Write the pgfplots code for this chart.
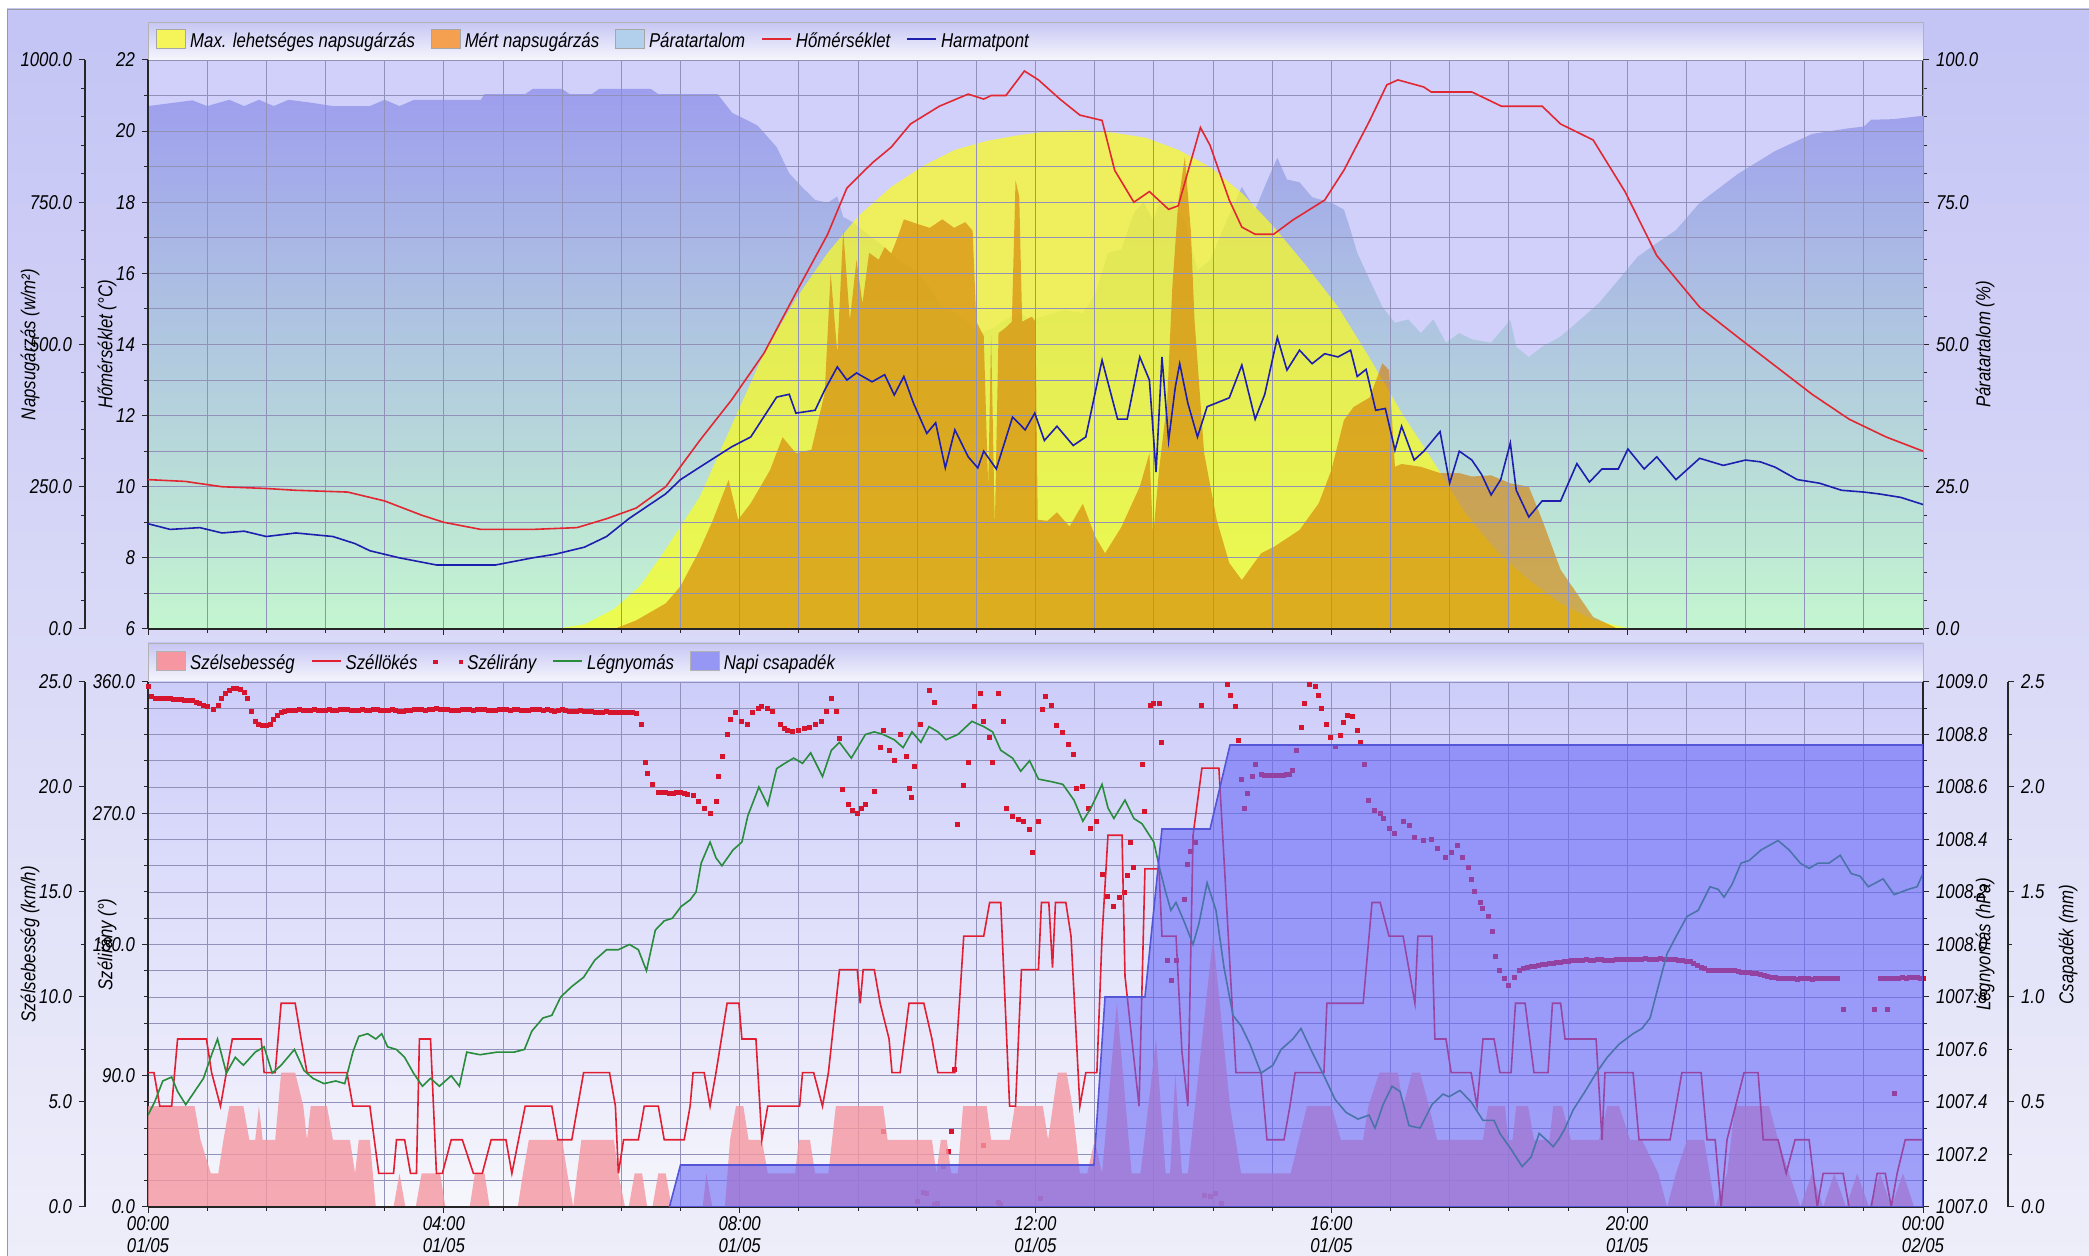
\documentclass[border=0pt]{standalone}
\usepackage{fontspec}
\setmainfont{Liberation Sans}[FakeStretch=0.84]
\usepackage{pgfplots}
\pgfplotsset{compat=1.18}
\definecolor{bgA}{RGB}{196,196,245}
\definecolor{bgB}{RGB}{238,238,250}
\definecolor{legA}{RGB}{198,198,244}
\definecolor{legB}{RGB}{246,246,253}
\definecolor{topbg}{RGB}{208,208,250}
\definecolor{humTop}{RGB}{158,158,238}
\definecolor{humMid}{RGB}{180,200,236}
\definecolor{humBot}{RGB}{196,246,208}
\definecolor{humLeg}{RGB}{178,208,236}
\definecolor{maxY}{RGB}{255,255,20}
\definecolor{maxYL}{RGB}{245,245,90}
\definecolor{measO}{RGB}{212,122,0}
\definecolor{measOL}{RGB}{245,160,80}
\definecolor{tempR}{RGB}{225,40,50}
\definecolor{dewB}{RGB}{30,30,175}
\definecolor{botTop}{RGB}{205,205,250}
\definecolor{botBot}{RGB}{246,246,252}
\definecolor{windP}{RGB}{245,150,160}
\definecolor{gustR}{RGB}{225,30,50}
\definecolor{dirR}{RGB}{215,20,45}
\definecolor{presG}{RGB}{40,140,60}
\definecolor{precB}{RGB}{100,100,248}
\definecolor{precE}{RGB}{85,85,215}
\definecolor{precL}{RGB}{150,150,245}
\definecolor{gridC}{RGB}{145,145,185}
\newcommand{\tf}{\fontsize{10}{11.5}\selectfont\itshape}
\pgfplotsset{
  every axis/.append style={scale only axis, width=887.5pt, xmin=0, xmax=24,
    tick align=outside, major tick length=3pt, minor tick length=2pt,
    tick style={black!85, line width=0.5pt},
    axis line style={black!85, line width=0.6pt},
    /pgf/number format/assume math mode=true,
    tick label style={font=\tf},
    label style={font=\tf},
    grid style={gridC, line width=0.45pt},
    minor grid style={gridC, line width=0.45pt}},
  toppanel/.style={at={(74pt,313.5pt)}, anchor=south west, height=284.5pt},
  botpanel/.style={at={(74pt,24.5pt)}, anchor=south west, height=262.5pt},
  onedec/.style={yticklabel style={/pgf/number format/.cd, fixed, fixed zerofill, precision=1, 1000 sep={}}},
  hourticks/.style={xtick={0,4,8,12,16,20,24},
    minor xtick={0.8,1.6,2.4,3.2,4.8,5.6,6.4,7.2,8.8,9.6,10.4,11.2,12.8,13.6,14.4,15.2,16.8,17.6,18.4,19.2,20.8,21.6,22.4,23.2}},
  leftlab/.style={every axis y label/.style={at={(rel axis cs:0,0.5)}, xshift=#1, rotate=90, anchor=center}},
  rightlab/.style={every axis y label/.style={at={(rel axis cs:1,0.5)}, xshift=#1, rotate=90, anchor=center}},
}
\begin{document}
\begin{tikzpicture}[font=\tf]
\path[use as bounding box] (0,0) rectangle (1044.5pt,628pt);
\fill[white] (0,0) rectangle (1044.5pt,628pt);
\shade[top color=bgA, bottom color=bgB, draw=gray!80] (3.5pt,-2pt) rectangle (1046pt,623.5pt);
\shade[top color=legA, bottom color=legB, draw=gray!60] (74pt,598pt) rectangle (961.5pt,617pt);
\shade[top color=legA, bottom color=legB, draw=gray!60] (74pt,287pt) rectangle (961.5pt,306.5pt);

% ================= TOP PANEL =================
\begin{axis}[toppanel, ymin=0, ymax=100, axis x line=none, axis y line*=right,
  axis background/.style={fill=topbg}, onedec,
  ytick={0,25,50,75,100}, minor ytick={5,10,15,20,30,35,40,45,55,60,65,70,80,85,90,95},
  rightlab=31pt, ylabel={Páratartalom (\%)}]
\addplot[draw=none, top color=humTop, middle color=humMid, bottom color=humBot] coordinates {
(0,91.9)(0.6,92.9)(0.8,91.9)(1.1,93)(1.3,91.9)(1.5,93)(1.7,91.9)(1.9,93)(2.2,92.5)(2.5,91.9)(3.0,91.9)(3.2,93)(3.4,91.9)(3.6,93)(4.5,93)(4.55,94)(5.1,94)(5.2,94.9)(5.6,94.9)(5.7,94)(6.0,94)(6.1,94.9)(6.8,94.9)(6.9,94)(7.7,94)(7.9,90.7)(8.24,88.5)(8.5,84.7)(8.67,80.1)(8.84,77.7)(9.02,75.4)(9.19,74.9)(9.32,76)(9.4,72.4)(9.53,71.5)(9.71,69.6)(9.96,67.1)(10.14,64.9)(10.4,62.6)(10.57,60.1)(10.74,56.6)(10.91,55.5)(11.09,53.8)(11.26,52)(11.47,53.2)(11.6,54.4)(11.78,55.5)(11.95,54.3)(12.12,55)(12.38,56.1)(12.64,55.5)(12.81,59)(12.98,66.1)(13.16,66.7)(13.33,73.1)(13.46,75)(13.59,71.8)(13.67,74.6)(13.85,75.3)(14.02,71.8)(14.19,63.1)(14.36,64.8)(14.53,70.1)(14.79,77.7)(14.97,73.7)(15.14,79)(15.27,82.8)(15.4,79)(15.57,78.5)(15.74,75.9)(16.0,74.9)(16.17,73.7)(16.26,70.1)(16.35,66.1)(16.52,61.3)(16.69,56.6)(16.86,53.8)(17.04,54.4)(17.21,52)(17.38,54.4)(17.55,50.3)(17.73,52)(17.9,50.9)(18.16,50.3)(18.42,54.3)(18.5,49.6)(18.67,47.8)(18.85,49.6)(19.1,51.4)(19.36,54.3)(19.62,57.3)(19.88,61.3)(20.14,65.4)(20.4,67.8)(20.66,70.1)(20.98,74.9)(21.5,80)(22.0,84)(22.5,87)(23.0,88)(23.2,88.3)(23.3,89.5)(23.6,89.6)(24.0,90.2)} \closedcycle;
\end{axis}

\begin{axis}[toppanel, ymin=0, ymax=1000, hide axis]
\addplot[draw=none, fill=maxY, fill opacity=0.68] coordinates {
(5.5,0)(5.9,8)(6.3,35)(6.65,75)(7.0,140)(7.46,232)(7.9,360)(8.33,485)(8.76,580)(9.19,661)(9.6,725)(10.05,777)(10.5,815)(10.91,842)(11.35,858)(11.78,868)(12.2,875)(12.64,877)(13.07,872)(13.5,863)(13.93,842)(14.36,812)(14.8,765)(15.22,707)(15.65,640)(16.09,566)(16.5,480)(16.95,380)(17.4,290)(17.81,204)(18.25,135)(18.67,86)(19.1,45)(19.54,16)(20.05,0)} \closedcycle;
\addplot[draw=none, fill=measO, fill opacity=0.6] coordinates {
(6.3,0)(6.6,15)(7.0,45)(7.2,75)(7.46,139)(7.64,192)(7.85,262)(7.98,192)(8.15,221)(8.41,279)(8.58,337)(8.76,309)(8.97,315)(9.15,415)(9.23,626)(9.32,485)(9.4,701)(9.49,543)(9.58,649)(9.66,572)(9.75,661)(9.88,649)(9.96,671)(10.05,660)(10.14,690)(10.22,720)(10.4,712)(10.57,705)(10.74,720)(10.9,705)(11.05,715)(11.15,700)(11.2,540)(11.3,515)(11.36,250)(11.4,515)(11.45,179)(11.5,520)(11.6,530)(11.68,540)(11.73,789)(11.78,760)(11.82,540)(11.95,549)(12.0,540)(12.03,192)(12.16,190)(12.29,205)(12.46,180)(12.64,220)(12.81,162)(12.94,133)(13.16,179)(13.41,250)(13.54,309)(13.59,162)(13.67,279)(13.78,400)(13.85,601)(13.93,750)(14.02,830)(14.1,700)(14.15,543)(14.28,309)(14.45,192)(14.62,116)(14.79,86)(15.05,133)(15.22,144)(15.57,174)(15.83,221)(16.0,279)(16.17,367)(16.3,390)(16.52,407)(16.69,467)(16.78,455)(16.86,285)(16.95,290)(17.21,285)(17.47,274)(17.73,274)(17.9,268)(18.16,270)(18.42,256)(18.67,250)(18.85,192)(19.1,104)(19.54,21)(19.88,0)} \closedcycle;
\end{axis}

\begin{axis}[toppanel, ymin=6, ymax=22, axis x line*=bottom, axis y line*=left,
  hourticks, xticklabels={}, grid=both,
  ytick={6,8,10,12,14,16,18,20,22}, minor ytick={7,9,11,13,15,17,19,21},
  leftlab=-20.5pt, ylabel={Hőmérséklet (°C)},
  legend columns=-1,
  legend style={at={(0,1)}, anchor=south west, xshift=1pt, yshift=0.5pt, draw=none, fill=none,
    font=\tf, /tikz/every even column/.append style={column sep=6pt}}]
\addlegendimage{legend image code/.code={\fill[maxYL, draw=gray!70] (0pt,-3.5pt) rectangle (14.5pt,6pt);}}
\addlegendentry{Max. lehetséges napsugárzás}
\addlegendimage{legend image code/.code={\fill[measOL, draw=gray!70] (0pt,-3.5pt) rectangle (14.5pt,6pt);}}
\addlegendentry{Mért napsugárzás}
\addlegendimage{legend image code/.code={\fill[humLeg, draw=gray!70] (0pt,-3.5pt) rectangle (14.5pt,6pt);}}
\addlegendentry{Páratartalom}
\addlegendimage{legend image code/.code={\draw[tempR, line width=0.9pt] (0pt,1.2pt) -- (14.5pt,1.2pt);}}
\addlegendentry{Hőmérséklet}
\addlegendimage{legend image code/.code={\draw[dewB, line width=0.9pt] (0pt,1.2pt) -- (14.5pt,1.2pt);}}
\addlegendentry{Harmatpont}
\addplot[forget plot, tempR, line width=0.8pt] coordinates {
(0,10.2)(0.5,10.15)(1.0,10.0)(1.6,9.95)(2.0,9.9)(2.7,9.85)(3.2,9.6)(3.7,9.2)(4.0,9.0)(4.5,8.8)(5.2,8.8)(5.8,8.85)(6.2,9.1)(6.6,9.4)(7.0,10.0)(7.46,11.3)(7.89,12.44)(8.33,13.76)(8.76,15.45)(9.19,17.1)(9.45,18.4)(9.79,19.1)(10.05,19.55)(10.31,20.2)(10.7,20.7)(11.09,21.04)(11.3,20.9)(11.4,21.0)(11.6,21.0)(11.85,21.69)(12.04,21.44)(12.33,20.9)(12.6,20.45)(12.9,20.3)(13.07,18.9)(13.33,18.0)(13.54,18.3)(13.8,17.8)(13.93,17.9)(14.23,20.1)(14.36,19.6)(14.62,18.06)(14.79,17.3)(14.97,17.1)(15.22,17.1)(15.48,17.5)(15.91,18.06)(16.17,18.9)(16.52,20.3)(16.75,21.3)(16.9,21.44)(17.25,21.24)(17.35,21.1)(17.9,21.1)(18.1,20.9)(18.3,20.7)(18.85,20.7)(19.1,20.2)(19.54,19.75)(19.97,18.3)(20.4,16.5)(20.98,15.05)(21.5,14.2)(22.0,13.4)(22.5,12.6)(23.0,11.9)(23.5,11.4)(24.0,11.0)};
\addplot[forget plot, dewB, line width=0.8pt] coordinates {
(0,8.96)(0.3,8.8)(0.7,8.85)(1.0,8.7)(1.3,8.75)(1.6,8.6)(2.0,8.7)(2.5,8.6)(2.8,8.4)(3.0,8.2)(3.4,8.0)(3.9,7.8)(4.7,7.8)(5.2,8.0)(5.5,8.1)(5.9,8.3)(6.2,8.6)(6.5,9.1)(7.0,9.8)(7.2,10.2)(7.46,10.55)(7.89,11.12)(8.15,11.4)(8.5,12.52)(8.67,12.6)(8.76,12.07)(9.02,12.15)(9.15,12.72)(9.32,13.37)(9.45,13.0)(9.58,13.2)(9.79,12.95)(9.96,13.15)(10.09,12.58)(10.22,13.1)(10.35,12.35)(10.53,11.5)(10.65,11.8)(10.78,10.53)(10.91,11.6)(11.09,10.84)(11.22,10.53)(11.3,11.0)(11.47,10.5)(11.69,11.96)(11.86,11.6)(11.99,12.07)(12.12,11.3)(12.29,11.7)(12.51,11.16)(12.68,11.4)(12.9,13.56)(13.11,11.9)(13.24,11.9)(13.41,13.65)(13.54,13.0)(13.63,10.41)(13.71,13.65)(13.8,11.3)(13.89,12.8)(13.95,13.46)(14.06,12.35)(14.19,11.4)(14.32,12.25)(14.62,12.5)(14.79,13.42)(14.97,11.9)(15.1,12.6)(15.27,14.2)(15.4,13.28)(15.57,13.84)(15.74,13.46)(15.91,13.74)(16.09,13.65)(16.26,13.84)(16.35,13.1)(16.47,13.3)(16.6,12.15)(16.73,12.2)(16.86,11.03)(16.95,11.7)(17.12,10.75)(17.25,11.0)(17.47,11.55)(17.6,10.1)(17.73,11.0)(17.9,10.75)(18.03,10.35)(18.16,9.77)(18.29,10.2)(18.42,11.23)(18.5,9.9)(18.67,9.15)(18.85,9.6)(19.1,9.6)(19.32,10.65)(19.49,10.13)(19.66,10.5)(19.88,10.5)(20.01,11.06)(20.23,10.5)(20.4,10.84)(20.66,10.2)(20.98,10.8)(21.3,10.6)(21.6,10.75)(21.8,10.7)(22.0,10.55)(22.3,10.2)(22.6,10.1)(22.9,9.9)(23.2,9.85)(23.4,9.8)(23.7,9.7)(24.0,9.5)};
\end{axis}

\begin{axis}[at={(42.5pt,313.5pt)}, anchor=south west, height=284.5pt, width=10pt,
  ymin=0, ymax=1000, axis x line=none, axis y line*=left, onedec,
  ytick={0,250,500,750,1000}, minor ytick={50,100,150,200,300,350,400,450,550,600,650,700,800,850,900,950},
  leftlab=-27.5pt, ylabel={Napsugárzás (w/m²)}]
\addplot[draw=none] coordinates {(0,0)};
\end{axis}

% ================= BOTTOM PANEL =================
\begin{axis}[botpanel, ymin=0, ymax=360, axis x line*=bottom, axis y line*=left,
  axis background/.style={top color=botTop, bottom color=botBot},
  hourticks, xticklabels={}, grid=both, onedec,
  ytick={0,90,180,270,360}, minor ytick={18,36,54,72,108,126,144,162,198,216,234,252,288,306,324,342},
  leftlab=-20.5pt, ylabel={Szélirány (°)}]
\addplot[only marks, mark=square*, mark size=1pt, mark options={fill=dirR, draw=dirR, line width=0pt}] coordinates {
(0,357)(0.05,350)(0.1,349)(0.15,349)(0.2,349)(0.25,348.8)(0.3,348.5)(0.35,348.3)(0.4,348)(0.45,347.8)(0.5,347.5)(0.55,347.2)(0.6,347)(0.65,346)(0.7,345)(0.75,344)(0.8,343)(0.88,341)(0.95,344)(1.0,349)(1.05,352)(1.1,354)(1.15,355.5)(1.2,355.5)(1.25,355)(1.3,353)(1.35,349)(1.4,340)(1.45,333)(1.5,331)(1.55,330)(1.6,330.5)(1.65,331)(1.7,334)(1.75,337)(1.8,339)(1.85,340)(1.9,340.5)(1.95,340.6)
(2.00,340.5)(2.05,340.8)(2.10,340.6)(2.15,340.2)(2.20,340.4)(2.25,340.9)(2.30,340.6)(2.35,340.3)(2.40,340.5)(2.45,341.0)(2.50,340.7)(2.55,340.4)(2.60,340.8)(2.65,341.2)(2.70,340.9)(2.75,340.5)(2.80,340.2)(2.85,340.6)(2.90,341.0)(2.95,340.7)(3.00,340.4)(3.05,340.8)(3.10,341.1)(3.15,340.7)(3.20,340.3)(3.25,340.6)(3.30,340.9)(3.35,340.4)(3.40,340.0)(3.45,339.8)(3.50,340.2)(3.55,340.6)(3.60,340.9)(3.65,341.3)(3.70,341.0)(3.75,340.6)(3.80,341.0)(3.85,341.4)(3.90,341.6)(3.95,341.2)(4.00,340.8)(4.05,341.1)(4.10,340.7)(4.15,340.3)(4.20,340.6)(4.25,341.0)(4.30,341.3)(4.35,340.9)(4.40,340.6)(4.45,341.0)(4.50,341.3)(4.55,340.9)(4.60,340.5)(4.65,340.2)(4.70,340.5)(4.75,340.9)(4.80,341.2)(4.85,340.8)(4.90,340.5)(4.95,340.8)(5.00,341.1)(5.05,340.7)(5.10,340.3)(5.15,340.6)(5.20,341.0)(5.25,341.3)(5.30,340.9)(5.35,340.5)(5.40,340.8)(5.45,340.4)(5.50,340.1)(5.55,340.4)(5.60,340.8)(5.65,340.4)(5.70,340.0)(5.75,339.7)(5.80,340.0)(5.85,340.3)(5.90,339.9)(5.95,339.5)(6.00,339.8)(6.05,339.4)(6.10,339.0)(6.15,339.3)(6.20,339.6)(6.25,339.2)(6.30,338.9)(6.35,339.2)(6.40,338.8)(6.45,339.1)(6.50,339.3)(6.55,338.9)(6.60,338.7)
(6.67,331)(6.73,305)(6.76,297)(6.82,290)(6.9,284)(6.95,284)(7.0,284)(7.05,283.5)(7.1,283.5)(7.15,284)(7.2,284)(7.25,283.5)(7.3,283)(7.37,282)(7.45,278)(7.52,273)(7.6,270)(7.68,278)(7.72,295)(7.77,309)(7.83,324)(7.87,334)(7.95,339)(8.03,333)(8.1,331)(8.18,339)(8.25,342)(8.3,343)(8.38,342)(8.45,340)(8.55,331)(8.6,328)(8.65,327)(8.72,326)(8.8,327)(8.88,328)(8.95,329)(9.03,331)(9.1,333)(9.17,340)(9.24,349)(9.31,340)(9.35,321)(9.39,286)(9.47,276)(9.53,272)(9.59,270)(9.65,273)(9.7,276)(9.82,285)(9.9,315)(9.94,327)(10.02,313)(10.1,306)(10.17,324)(10.25,309)(10.29,287)(10.33,281)(10.37,302)(10.45,331)(10.56,354)(10.64,346)(10.95,262)(11.03,289)(11.1,305)(11.18,343)(11.26,352)(11.3,333)(11.38,322)(11.42,305)(11.5,352)(11.57,333)(11.61,273)(11.69,268)(11.77,266)(11.84,264)(11.92,259)(11.96,243)(12.04,264)(12.1,341)
(9.94,52)(10.4,4)(10.48,9.6)(10.52,9)(10.64,1.4)(10.68,2.3)(10.76,28)(10.83,38)(10.87,52)(10.9,94)(11.3,42)(11.5,3)(11.53,2)(12.07,6)
(12.14,349.9)(12.21,344)(12.29,330)(12.37,325.5)(12.44,317)(12.52,310)(12.56,287)(12.64,288)(12.71,273)(12.75,259.5)(12.83,264)(12.9,228)(12.98,213)(13.06,206)(13.13,212)(13.21,215.5)(13.25,227)(13.29,250)(13.33,233)(13.44,303.5)(13.48,271)(13.56,344)(13.6,345)(13.67,345)(13.71,318.6)(13.79,169)(13.84,155)(13.9,169)(14.02,210.8)(14.06,235)(14.09,244)(14.17,250)(14.25,344)(14.29,8)(14.36,7)(14.44,9)(14.52,2.3)(14.59,358)(14.63,351)(14.71,343)(14.75,320)(14.78,293)(14.82,273)(14.86,283.8)(14.94,295)(14.98,303.5)(15.05,296.6)(15.1,296.2)(15.15,296)(15.2,296.2)(15.25,296)(15.3,296.2)(15.35,296)(15.4,296.4)(15.44,296.5)(15.48,299)(15.53,312.8)(15.59,329)(15.64,345)(15.7,358)(15.78,357)(15.82,351)(15.87,341.8)(15.94,331)(15.99,322)(16.05,316)(16.13,323)(16.17,332)(16.22,337)(16.28,336)(16.36,326.7)(16.4,318.6)(16.45,303.5)(16.5,279)(16.59,272)(16.66,270)(16.7,266.5)(16.78,259.5)(16.86,256)(16.97,264)(17.05,261.7)(17.13,253.7)(17.24,251)(17.36,252)(17.43,245.6)(17.55,239.8)(17.62,243)(17.7,248)(17.78,239.8)(17.85,232.9)(17.89,224.7)(17.93,216.6)(18.01,208.5)(18.05,205)(18.12,199)(18.18,188.8)(18.22,171.5)(18.28,162)(18.34,156.4)(18.39,151.8)(18.47,157.6)(18.55,162)
(18.60,163.5)(18.65,164.5)(18.70,164.8)(18.75,165.2)(18.80,165.5)(18.85,166.0)(18.90,166.4)(18.95,166.8)(19.00,167.2)(19.05,167.5)(19.10,167.9)(19.15,168.2)(19.20,168.6)(19.25,169.0)(19.30,169.1)(19.35,169.0)(19.40,169.3)(19.45,169.5)(19.50,169.2)(19.55,169.0)(19.60,169.4)(19.65,169.6)(19.70,169.2)(19.75,169.0)(19.80,169.3)(19.85,169.6)(19.90,169.5)(19.95,169.4)(20.00,169.7)(20.05,170.0)(20.10,169.8)(20.15,169.5)(20.20,169.8)(20.25,170.1)(20.30,169.8)(20.35,169.5)(20.40,169.9)(20.45,170.2)(20.50,169.9)(20.55,169.6)(20.60,169.5)(20.65,169.7)(20.70,169.3)(20.75,169.0)(20.80,168.6)(20.85,168.0)(20.90,166.9)(20.95,165.7)(21.00,164.2)(21.05,163.2)(21.10,162.4)(21.15,162.0)(21.20,162.2)(21.25,162.0)(21.30,162.3)(21.35,162.5)(21.40,162.2)(21.45,161.9)(21.50,161.4)(21.55,161.0)(21.60,160.8)(21.65,160.5)(21.70,160.2)(21.75,159.9)(21.80,159.2)(21.85,158.5)(21.90,158.0)(21.95,157.5)(22.00,157.2)(22.05,157.0)(22.10,156.8)(22.15,156.5)(22.20,156.6)(22.25,156.5)(22.30,156.3)(22.35,156.4)(22.40,156.6)(22.45,156.4)(22.50,156.2)(22.55,156.4)(22.60,156.5)(22.65,156.4)(22.70,156.6)(22.75,156.8)(22.80,156.5)(22.85,156.4)
(22.92,135.5)(23.35,135.5)(23.52,135.5)(23.61,78)
(23.42,156.4)(23.47,156.4)(23.52,156.6)(23.57,156.5)(23.62,156.8)(23.67,157.0)(23.72,157.1)(23.77,157.0)(23.82,157.2)(23.87,157.3)(23.92,157.1)(23.97,157.0)(24.0,157.0)};
\end{axis}

\begin{axis}[botpanel, ymin=0, ymax=25, hide axis]
\addplot[draw=none, fill=windP, fill opacity=0.8] coordinates {
(0,4.8)(0.63,4.8)(0.71,3.2)(0.85,1.6)(0.95,1.6)(1.02,3.2)(1.1,4.8)(1.29,4.8)(1.37,3.2)(1.45,3.2)(1.5,4.8)(1.55,3.2)(1.72,3.2)(1.8,6.4)(1.99,6.4)(2.1,4.8)(2.15,3.2)(2.2,4.8)(2.42,4.8)(2.5,3.2)(2.73,3.2)(2.8,1.6)(2.85,3.2)(3.0,3.2)(3.08,0)(3.32,0)(3.4,1.6)(3.48,0)(3.62,0)(3.7,1.6)(3.95,1.6)(4.02,0)(4.35,0)(4.42,1.6)(4.55,1.6)(4.62,0)(5.0,0)(5.07,1.6)(5.15,3.2)(5.6,3.2)(5.67,1.6)(5.75,0)(5.8,1.6)(5.86,3.2)(6.3,3.2)(6.36,1.6)(6.45,0)(6.5,0)(6.58,1.6)(6.68,1.6)(6.75,0)(6.82,0)(6.9,1.6)(7.0,1.6)(7.08,0)(7.5,0)(7.55,1.6)(7.63,0)(7.8,0)(7.87,3.2)(7.95,4.8)(8.05,4.8)(8.12,3.2)(8.3,3.2)(8.38,1.6)(8.75,1.6)(8.8,3.2)(8.95,3.2)(9.02,1.6)(9.2,1.6)(9.3,4.8)(9.94,4.8)(10.0,3.2)(10.6,3.2)(10.66,1.6)(10.72,3.2)(10.8,3.2)(10.86,1.6)(10.95,1.6)(11.02,4.8)(11.34,4.8)(11.4,3.2)(11.65,3.2)(11.72,4.8)(12.1,4.8)(12.17,3.2)(12.3,6.4)(12.42,6.4)(12.5,4.8)(12.6,1.6)(12.7,1.6)(12.8,3.2)(12.9,1.6)(13.1,9.7)(13.3,1.6)(13.42,1.6)(13.63,8.0)(13.76,1.6)(13.82,1.6)(13.89,6.4)(13.98,1.6)(14.06,1.6)(14.4,12.9)(14.63,4.8)(14.78,1.6)(15.45,1.6)(15.67,4.8)(16.0,4.8)(16.13,3.2)(16.43,3.2)(16.5,4.8)(16.65,6.4)(16.9,6.4)(16.97,4.8)(17.09,6.4)(17.2,6.4)(17.32,4.8)(17.43,3.2)(18.05,3.2)(18.12,4.8)(18.35,4.8)(18.39,3.2)(18.45,3.2)(18.5,4.8)(18.66,4.8)(18.74,3.2)(18.95,3.2)(19.0,4.8)(19.12,4.8)(19.24,3.2)(19.62,3.2)(19.73,4.8)(19.89,4.8)(20.04,3.2)(20.2,3.2)(20.42,1.6)(20.54,0)(20.66,1.6)(20.81,3.2)(21.04,3.2)(21.19,0)(21.35,1.6)(21.46,4.8)(21.92,4.8)(22.04,3.2)(22.19,1.6)(22.34,0)(22.5,1.6)(22.65,0)(22.8,1.6)(22.96,0)(23.11,1.6)(23.27,0)(23.42,1.6)(23.57,0)(23.73,1.6)(23.88,0)(24,0)} \closedcycle;
\addplot[gustR, line width=0.8pt] coordinates {
(0,6.4)(0.08,6.4)(0.16,4.8)(0.32,4.8)(0.4,8.0)(0.79,8.0)(0.86,6.4)(0.98,4.8)(1.06,6.4)(1.14,8.0)(1.53,8.0)(1.57,6.4)(1.72,6.4)(1.8,9.7)(1.99,9.7)(2.07,8.0)(2.15,6.4)(2.69,6.4)(2.77,4.8)(3.0,4.8)(3.12,1.6)(3.32,1.6)(3.36,3.2)(3.47,3.2)(3.55,1.6)(3.63,1.6)(3.67,8.0)(3.82,8.0)(3.9,1.6)(3.98,1.6)(4.1,3.2)(4.25,3.2)(4.4,1.6)(4.52,1.6)(4.64,3.2)(4.84,3.2)(4.92,1.6)(5.1,4.8)(5.46,4.8)(5.54,3.2)(5.73,3.2)(5.89,6.4)(6.24,6.4)(6.32,4.8)(6.36,1.6)(6.43,3.2)(6.63,3.2)(6.71,4.8)(6.9,4.8)(6.98,3.2)(7.25,3.2)(7.33,4.8)(7.37,6.4)(7.52,6.4)(7.6,4.8)(7.68,6.4)(7.83,9.7)(7.99,9.7)(8.03,8.0)(8.22,8.0)(8.3,3.2)(8.38,4.8)(8.81,4.8)(8.85,6.4)(9.0,6.4)(9.12,4.8)(9.2,6.4)(9.35,11.3)(9.59,11.3)(9.63,9.7)(9.67,11.3)(9.82,11.3)(9.9,9.7)(10.02,8.0)(10.06,6.4)(10.17,6.4)(10.29,9.7)(10.49,9.7)(10.6,8.0)(10.68,6.4)(10.91,6.4)(11.03,12.9)(11.3,12.9)(11.38,14.5)(11.53,14.5)(11.65,4.8)(11.73,4.8)(11.81,11.3)(12.04,11.3)(12.08,14.5)(12.18,14.5)(12.23,11.4)(12.27,14.5)(12.41,14.5)(12.48,12.9)(12.6,4.8)(12.68,6.4)(12.83,6.4)(12.9,12.9)(12.98,17.7)(13.17,17.7)(13.21,11)(13.4,4.8)(13.48,16.1)(13.67,16.1)(13.71,12.9)(13.9,12.9)(13.98,7.4)(14.06,4.8)(14.13,17.7)(14.25,20.9)(14.48,20.9)(14.71,6.4)(15.05,6.4)(15.13,3.2)(15.36,3.2)(15.44,4.8)(15.51,6.4)(15.9,6.4)(15.94,9.7)(16.43,9.7)(16.55,14.5)(16.66,14.5)(16.78,12.9)(16.97,12.9)(17.05,11.3)(17.13,9.7)(17.17,12.9)(17.36,12.9)(17.4,8.0)(17.55,8.0)(17.62,6.4)(17.89,6.4)(17.97,4.8)(18.05,8.0)(18.2,8.0)(18.28,6.4)(18.43,6.4)(18.49,9.7)(18.62,9.7)(18.74,6.4)(18.93,6.4)(18.99,9.7)(19.1,9.7)(19.16,8.0)(19.58,8.0)(19.66,3.2)(19.7,6.4)(20.08,6.4)(20.16,3.2)(20.58,3.2)(20.74,6.4)(21.0,6.4)(21.08,3.2)(21.19,3.2)(21.27,0)(21.35,3.2)(21.58,6.4)(21.77,6.4)(21.84,3.2)(22.04,3.2)(22.15,1.6)(22.27,3.2)(22.46,3.2)(22.57,0)(22.65,1.6)(22.92,1.6)(23.0,0)(23.3,0)(23.38,1.6)(23.49,1.6)(23.57,0)(23.65,1.6)(23.76,3.2)(24,3.2)};
\end{axis}

\begin{axis}[botpanel, ymin=1007, ymax=1009, axis x line=none, axis y line*=right, onedec,
  ytick={1007,1007.2,1007.4,1007.6,1007.8,1008,1008.2,1008.4,1008.6,1008.8,1009},
  minor ytick={1007.1,1007.3,1007.5,1007.7,1007.9,1008.1,1008.3,1008.5,1008.7,1008.9},
  rightlab=31pt, ylabel={Légnyomás (hPa)}]
\addplot[presG, line width=0.8pt] coordinates {
(0,1007.35)(0.09,1007.40)(0.2,1007.48)(0.32,1007.495)(0.4,1007.44)(0.51,1007.39)(0.63,1007.44)(0.75,1007.49)(0.86,1007.58)(0.94,1007.64)(1.06,1007.51)(1.18,1007.57)(1.29,1007.54)(1.45,1007.59)(1.57,1007.61)(1.68,1007.51)(1.8,1007.54)(1.98,1007.60)(2.11,1007.52)(2.23,1007.49)(2.38,1007.47)(2.54,1007.48)(2.66,1007.47)(2.77,1007.59)(2.85,1007.65)(2.97,1007.66)(3.08,1007.64)(3.16,1007.66)(3.24,1007.61)(3.36,1007.60)(3.47,1007.57)(3.59,1007.51)(3.71,1007.46)(3.82,1007.49)(3.94,1007.46)(4.1,1007.50)(4.21,1007.46)(4.31,1007.59)(4.49,1007.58)(4.72,1007.59)(4.95,1007.59)(5.09,1007.60)(5.19,1007.67)(5.34,1007.72)(5.46,1007.73)(5.58,1007.80)(5.73,1007.84)(5.89,1007.875)(6.04,1007.94)(6.2,1007.98)(6.36,1007.98)(6.51,1008.0)(6.63,1007.98)(6.74,1007.90)(6.86,1008.055)(6.98,1008.09)(7.09,1008.10)(7.21,1008.145)(7.33,1008.17)(7.41,1008.20)(7.48,1008.31)(7.6,1008.39)(7.68,1008.33)(7.76,1008.30)(7.91,1008.36)(8.03,1008.39)(8.11,1008.49)(8.26,1008.60)(8.38,1008.53)(8.5,1008.67)(8.61,1008.69)(8.73,1008.71)(8.85,1008.69)(8.96,1008.73)(9.12,1008.64)(9.24,1008.74)(9.35,1008.77)(9.51,1008.71)(9.7,1008.80)(9.82,1008.81)(9.94,1008.80)(10.09,1008.78)(10.21,1008.75)(10.33,1008.81)(10.45,1008.77)(10.56,1008.83)(10.68,1008.81)(10.79,1008.78)(10.95,1008.80)(11.14,1008.85)(11.3,1008.83)(11.42,1008.81)(11.53,1008.74)(11.69,1008.71)(11.8,1008.66)(11.92,1008.70)(12.04,1008.63)(12.22,1008.62)(12.37,1008.61)(12.52,1008.55)(12.64,1008.47)(12.75,1008.52)(12.9,1008.61)(12.98,1008.52)(13.06,1008.48)(13.21,1008.55)(13.33,1008.48)(13.44,1008.46)(13.6,1008.39)(13.67,1008.30)(13.75,1008.21)(13.83,1008.13)(13.9,1008.16)(14.02,1008.08)(14.13,1008.0)(14.21,1008.08)(14.32,1008.235)(14.44,1008.13)(14.55,1007.91)(14.67,1007.73)(14.78,1007.69)(14.9,1007.62)(15.05,1007.51)(15.21,1007.54)(15.32,1007.60)(15.48,1007.64)(15.59,1007.68)(15.74,1007.59)(15.9,1007.50)(16.05,1007.41)(16.2,1007.36)(16.36,1007.335)(16.51,1007.35)(16.59,1007.30)(16.7,1007.39)(16.82,1007.46)(16.93,1007.44)(17.05,1007.31)(17.2,1007.30)(17.36,1007.39)(17.51,1007.43)(17.59,1007.42)(17.74,1007.444)(17.89,1007.40)(18.05,1007.33)(18.2,1007.33)(18.28,1007.28)(18.43,1007.22)(18.58,1007.154)(18.7,1007.19)(18.81,1007.28)(18.89,1007.26)(19.0,1007.23)(19.08,1007.26)(19.16,1007.30)(19.27,1007.37)(19.43,1007.44)(19.58,1007.51)(19.73,1007.57)(19.89,1007.62)(20.08,1007.66)(20.2,1007.68)(20.31,1007.72)(20.43,1007.85)(20.54,1007.965)(20.66,1008.03)(20.81,1008.107)(20.96,1008.13)(21.12,1008.22)(21.23,1008.21)(21.31,1008.18)(21.42,1008.23)(21.54,1008.31)(21.65,1008.32)(21.81,1008.36)(22.04,1008.396)(22.19,1008.36)(22.34,1008.31)(22.46,1008.29)(22.58,1008.31)(22.73,1008.31)(22.88,1008.34)(23.03,1008.27)(23.15,1008.26)(23.26,1008.22)(23.46,1008.25)(23.61,1008.19)(23.8,1008.21)(23.92,1008.22)(24.0,1008.27)};
\end{axis}

\begin{axis}[botpanel, ymin=0, ymax=2.5, axis y line=none, axis x line*=bottom, hourticks,
  xticklabels={{00:00\\01/05},{04:00\\01/05},{08:00\\01/05},{12:00\\01/05},{16:00\\01/05},{20:00\\01/05},{00:00\\02/05}},
  xticklabel style={align=center, font=\fontsize{10}{11}\selectfont\itshape, inner sep=1.5pt},
  legend columns=-1,
  legend style={at={(0,1)}, anchor=south west, xshift=1pt, yshift=0.5pt, draw=none, fill=none,
    font=\tf, /tikz/every even column/.append style={column sep=6pt}}]
\addlegendimage{legend image code/.code={\fill[windP, draw=gray!60] (0pt,-3.5pt) rectangle (14.5pt,6pt);}}
\addlegendentry{Szélsebesség}
\addlegendimage{legend image code/.code={\draw[gustR, line width=0.9pt] (0pt,1.2pt) -- (14.5pt,1.2pt);}}
\addlegendentry{Széllökés}
\addlegendimage{legend image code/.code={\fill[dirR] (0pt,0pt) rectangle (1.8pt,1.8pt); \fill[dirR] (12.7pt,0pt) rectangle (14.5pt,1.8pt);}}
\addlegendentry{Szélirány}
\addlegendimage{legend image code/.code={\draw[presG, line width=0.9pt] (0pt,1.2pt) -- (14.5pt,1.2pt);}}
\addlegendentry{Légnyomás}
\addlegendimage{legend image code/.code={\fill[precL, draw=gray!60] (0pt,-3.5pt) rectangle (14.5pt,6pt);}}
\addlegendentry{Napi csapadék}
\addplot[forget plot, draw=precE, line width=0.8pt, fill=precB, fill opacity=0.58] coordinates {
(7.05,0)(7.2,0.2)(12.79,0.2)(12.94,1.0)(13.48,1.0)(13.71,1.8)(14.36,1.8)(14.63,2.2)(24,2.2)} \closedcycle;
\end{axis}

\begin{axis}[at={(42.5pt,24.5pt)}, anchor=south west, height=262.5pt, width=10pt,
  ymin=0, ymax=25, axis x line=none, axis y line*=left, onedec,
  ytick={0,5,10,15,20,25}, minor ytick={2.5,7.5,12.5,17.5,22.5},
  leftlab=-27.5pt, ylabel={Szélsebesség (km/h)}]
\addplot[draw=none] coordinates {(0,0)};
\end{axis}

\begin{axis}[at={(1004pt,24.5pt)}, anchor=south east, height=262.5pt, width=10pt,
  ymin=0, ymax=2.5, axis x line=none, axis y line*=right, onedec,
  ytick={0,0.5,1,1.5,2,2.5}, minor ytick={0.25,0.75,1.25,1.75,2.25},
  rightlab=30pt, ylabel={Csapadék (mm)}]
\addplot[draw=none] coordinates {(0,0)};
\end{axis}
\end{tikzpicture}
\end{document}
